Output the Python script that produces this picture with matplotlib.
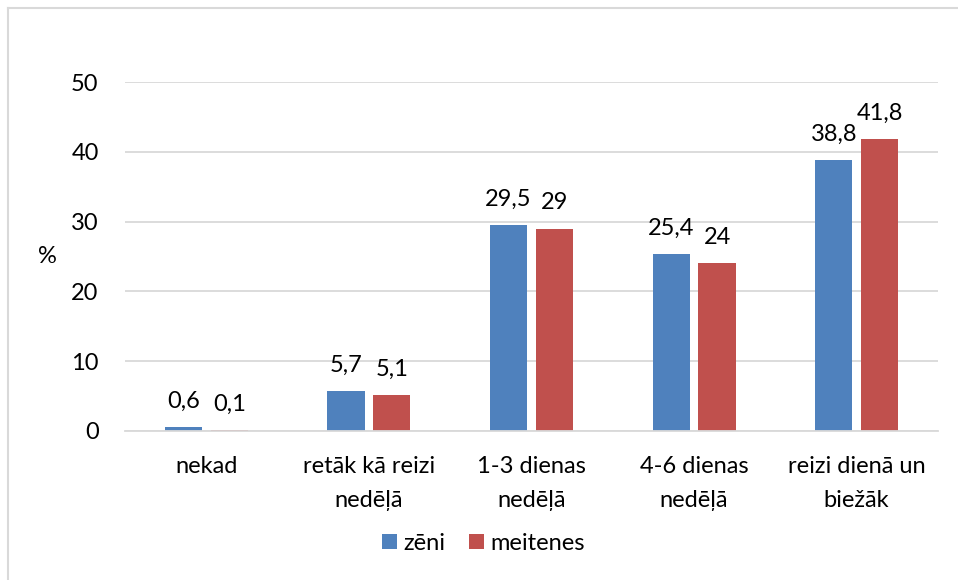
import matplotlib.pyplot as plt
import numpy as np
from matplotlib.lines import Line2D

categories = ["nekad", "retāk kā reizi\nnedēļā", "1-3 dienas\nnedēļā",
              "4-6 dienas\nnedēļā", "reizi dienā un\nbiežāk"]
zeni = [0.6, 5.7, 29.5, 25.4, 38.8]
meitenes = [0.1, 5.1, 29, 24, 41.8]
series_names = ["zēni", "meitenes"]

plt.rcParams['font.family'] = ['Lato', 'DejaVu Sans']
blue = '#4F81BD'
red = '#C0504D'
grid_col = '#D9D9D9'
fs = 17

fig = plt.figure(figsize=(9.58, 5.8), dpi=100)
ax = fig.add_axes([0.1305, 0.2569, 0.8486, 0.6017])

x = np.arange(len(categories))
w = 0.228
off = 0.141
b1 = ax.bar(x - off, zeni, w, color=blue, label=series_names[0])
b2 = ax.bar(x + off, meitenes, w, color=red, label=series_names[1])

def fmt(v):
    return ('%g' % v).replace('.', ',')

for bars, vals in ((b1, zeni), (b2, meitenes)):
    for b, v in zip(bars, vals):
        ax.annotate(fmt(v), (b.get_x() + b.get_width() / 2, v),
                    xytext=(0, 11), textcoords='offset points',
                    ha='center', va='bottom', fontsize=fs)

ax.set_xlim(-0.5, len(categories) - 0.5)
ax.set_ylim(0, 50)
ax.set_yticks(range(0, 51, 10))
ax.yaxis.grid(True, color=grid_col, linewidth=1.3)
ax.set_axisbelow(True)
for s in ['top', 'right', 'left']:
    ax.spines[s].set_visible(False)
ax.spines['bottom'].set_color(grid_col)
ax.spines['bottom'].set_linewidth(1.3)
ax.tick_params(axis='both', length=0, labelsize=fs)
ax.tick_params(axis='y', pad=19)
ax.tick_params(axis='x', pad=18)
ax.set_xticks(x)
ax.set_xticklabels(categories, linespacing=1.75)
ax.set_ylabel('%', fontsize=fs, rotation=0, va='center')
ax.yaxis.set_label_coords(-0.095, 0.5)

fig.legend(handles=[b1, b2], loc='center', bbox_to_anchor=(0.505, 0.063),
           ncol=2, frameon=False, fontsize=fs, handlelength=0.6,
           handleheight=0.6, handletextpad=0.3, columnspacing=1.0)

# outer chart frame
fig.add_artist(Line2D([7.5 / 958, 7.5 / 958], [0, 1 - 7.5 / 580],
                      color=grid_col, linewidth=1.5, transform=fig.transFigure))
fig.add_artist(Line2D([7.5 / 958, 1], [1 - 7.5 / 580, 1 - 7.5 / 580],
                      color=grid_col, linewidth=1.5, transform=fig.transFigure))

fig.savefig('out.png', dpi=100)
